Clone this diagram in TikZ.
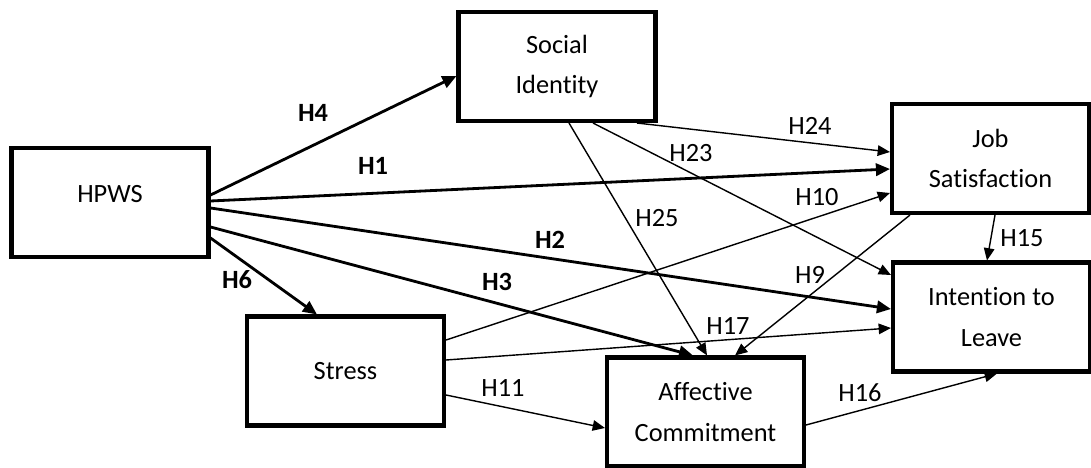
\documentclass[tikz,border=0pt]{standalone}
\usepackage{fontspec}
\setmainfont{Carlito}[Ligatures=NoCommon]
\usetikzlibrary{arrows.meta}
\begin{document}
\begin{tikzpicture}[
  construct/.style={draw,line width=2.3pt,fill=white,minimum width=3.94cm,minimum height=2.18cm,align=center,inner sep=2pt,font=\fontsize{15}{23}\selectfont},
  strong/.style={line width=1.6pt,-{Triangle[length=8pt,width=7pt]}},
  weak/.style={line width=0.8pt,-{Triangle[length=7pt,width=6pt]}},
  hyp/.style={font=\fontsize{15}{18}\selectfont},
  hypb/.style={font=\fontsize{15}{18}\selectfont\bfseries}]
\useasboundingbox (0,0) rectangle (21.82,-9.36);
\node[construct,text depth=0.36cm] (hpws) at (2.2,-4.05) {HPWS};
\node[construct] (si) at (11.14,-1.33) {Social\\Identity};
\node[construct] (js) at (19.81,-3.17) {Job\\Satisfaction};
\node[construct] (itl) at (19.83,-6.34) {Intention to\\Leave};
\node[construct] (stress) at (6.91,-7.42) {Stress};
\node[construct] (ac) at (14.11,-8.24) {Affective\\Commitment};
\draw[strong] ([yshift=0.15cm]hpws.east) -- ([yshift=-0.19cm]si.west);
\draw[strong] ([yshift=0.03cm]hpws.east) -- ([yshift=-0.21cm]js.west);
\draw[strong] ([yshift=-0.11cm]hpws.east) -- ([yshift=0.16cm]itl.west);
\draw[strong] ([yshift=-0.49cm]hpws.east) -- ([xshift=-0.25cm]ac.north);
\draw[strong] ([yshift=-0.71cm]hpws.east) -- ([xshift=-0.57cm]stress.north);
\draw[weak] ([xshift=1.6cm]si.south) -- ([yshift=0.13cm]js.west);
\draw[weak] ([xshift=0.72cm]si.south) -- ([yshift=0.84cm]itl.west);
\draw[weak] ([xshift=0.24cm]si.south) -- ([xshift=0.03cm]ac.north);
\draw[weak] ([yshift=0.62cm]stress.east) -- ([yshift=-0.69cm]js.west);
\draw[weak] ([xshift=-1.61cm]js.south) -- ([xshift=0.59cm]ac.north);
\draw[weak] ([xshift=0.09cm]js.south) -- ([xshift=-0.09cm]itl.north);
\draw[weak] ([yshift=0.22cm]stress.east) -- ([yshift=-0.22cm]itl.west);
\draw[weak] ([yshift=-0.48cm]stress.east) -- ([yshift=-0.32cm]ac.west);
\draw[weak] ([yshift=-0.26cm]ac.east) -- ([xshift=0.11cm]itl.south);
\node[hypb] (lh4) at (6.26,-2.26) {H4};
\node[hypb] (lh1) at (7.46,-3.32) {H1};
\node[hypb] (lh2) at (11.0,-4.8) {H2};
\node[hypb] (lh3) at (9.94,-5.64) {H3};
\node[hypb] (lh6) at (4.74,-5.6) {H6};
\node[hyp] (lh24) at (16.2,-2.52) {H24};
\node[hyp] (lh23) at (13.82,-3.06) {H23};
\node[hyp] (lh10) at (16.34,-3.94) {H10};
\node[hyp] (lh25) at (13.14,-4.36) {H25};
\node[hyp] (lh9) at (16.2,-5.5) {H9};
\node[hyp] (lh17) at (14.56,-6.52) {H17};
\node[hyp] (lh11) at (10.06,-7.76) {H11};
\node[hyp] (lh16) at (17.2,-7.86) {H16};
\node[hyp] (lh15) at (20.44,-4.76) {H15};
\end{tikzpicture}
\end{document}
